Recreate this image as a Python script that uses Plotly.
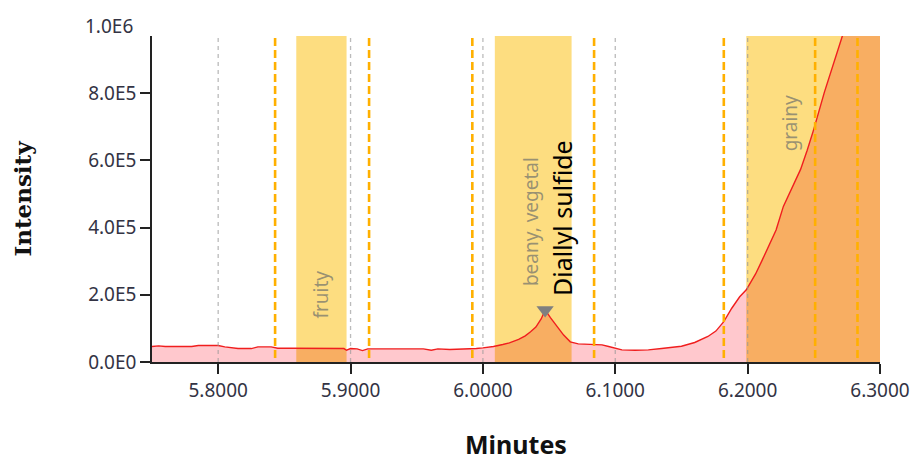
import numpy as np
import plotly.graph_objects as go

# Chromatogram trace (retention time in minutes, detector intensity)
minutes = [
    5.750, 5.755, 5.760, 5.770, 5.780, 5.785, 5.795, 5.800, 5.805, 5.815,
    5.825, 5.830, 5.840, 5.845, 5.855, 5.865, 5.875, 5.885, 5.895, 5.897,
    5.900, 5.905, 5.909, 5.913, 5.925, 5.940, 5.955, 5.961, 5.966, 5.975,
    5.985, 5.995, 6.000, 6.008, 6.015, 6.020, 6.027, 6.032, 6.036, 6.040,
    6.044, 6.047, 6.051, 6.054, 6.057, 6.061, 6.066, 6.072, 6.080, 6.090,
    6.095, 6.100, 6.105, 6.115, 6.125, 6.135, 6.140, 6.150, 6.160, 6.170,
    6.176, 6.182, 6.188, 6.194, 6.199, 6.206, 6.211, 6.2215, 6.227, 6.234,
    6.240, 6.245, 6.250, 6.258, 6.265, 6.272, 6.280, 6.290, 6.300,
]
intensity = [
    46e3, 48e3, 46e3, 46e3, 46e3, 49e3, 50e3, 49e3, 45e3, 40e3,
    40e3, 45e3, 45e3, 41e3, 41e3, 41e3, 41e3, 41e3, 40e3, 35e3,
    40e3, 39e3, 34e3, 39e3, 39e3, 39e3, 39e3, 35e3, 39e3, 37e3,
    38e3, 40e3, 42e3, 46e3, 52e3, 57e3, 67e3, 78e3, 90e3, 104e3,
    128e3, 155e3, 132e3, 115e3, 101e3, 80e3, 60e3, 54e3, 52e3, 51e3,
    46e3, 40e3, 36e3, 35e3, 36e3, 40e3, 42e3, 47e3, 58e3, 76e3,
    92e3, 120e3, 160e3, 194e3, 215e3, 262e3, 303e3, 393e3, 463e3, 520e3,
    573e3, 630e3, 693e3, 803e3, 893e3, 976e3, 1080e3, 1200e3, 1320e3,
]

# Axis ticks
x_tick_vals = [5.8, 5.9, 6.0, 6.1, 6.2, 6.3]
x_tick_text = ["5.8000", "5.9000", "6.0000", "6.1000", "6.2000", "6.3000"]
y_tick_vals = [0, 2e5, 4e5, 6e5, 8e5]
y_tick_text = ["0.0E0", "2.0E5", "4.0E5", "6.0E5", "8.0E5"]
y_top_label = "1.0E6"

# Olfactometry odour windows
odor_start = [5.859, 6.009, 6.199]
odor_end = [5.897, 6.067, 6.300]
odor_names = ["fruity", "beany, vegetal", "grainy"]
odor_name_x = [5.878, 6.0365, 6.232]
odor_name_y = [2.02e5, 4.17e5, 7.1e5]

# Panel response markers
event_minutes = [5.843, 5.914, 5.992, 6.084, 6.182, 6.251, 6.283]

compound_name = "Diallyl sulfide"

X_RANGE = [5.75, 6.3]
Y_RANGE = [0, 0.97e6]

YELLOW = "#FDDD80"
ORANGE_FILL = "#F8AE62"
PINK_FILL = "#FFC8CD"
RED = "#F01E1E"
MARKER_ORANGE = "#FFB000"
FONT = "Noto Sans"
TICK_COLOR = "#333344"

x_arr = np.array(minutes)
y_arr = np.array(intensity)

fig = go.Figure()

# Area under the whole trace
fig.add_trace(go.Scatter(
    x=minutes, y=intensity, mode="lines", line=dict(width=0),
    fill="tozeroy", fillcolor=PINK_FILL, hoverinfo="skip", showlegend=False,
))

# Area under the trace inside each odour window
for s, e in zip(odor_start, odor_end):
    inside = (x_arr > s) & (x_arr < e)
    xs = np.concatenate([[s], x_arr[inside], [e]])
    ys = np.concatenate([[np.interp(s, x_arr, y_arr)], y_arr[inside],
                         [np.interp(e, x_arr, y_arr)]])
    fig.add_trace(go.Scatter(
        x=xs, y=ys, mode="lines", line=dict(width=0),
        fill="tozeroy", fillcolor=ORANGE_FILL, hoverinfo="skip", showlegend=False,
    ))

# Trace line
fig.add_trace(go.Scatter(
    x=minutes, y=intensity, mode="lines",
    line=dict(color=RED, width=1.4), showlegend=False,
))

# Identified peak apex
peak_i = int(np.argmax(np.where(x_arr < 6.1, y_arr, 0)))
peak_x, peak_y = minutes[peak_i], intensity[peak_i]
fig.add_trace(go.Scatter(
    x=[peak_x], y=[peak_y], mode="markers",
    marker=dict(symbol="triangle-down", size=15, color="#7F7F7F"),
    showlegend=False,
))

shapes = []
for s, e in zip(odor_start, odor_end):
    shapes.append(dict(type="rect", xref="x", yref="paper", x0=s, x1=e, y0=0, y1=1,
                       fillcolor=YELLOW, line=dict(width=0), layer="below"))
for v in x_tick_vals[:-1]:
    shapes.append(dict(type="line", xref="x", yref="paper", x0=v, x1=v, y0=0, y1=1,
                       line=dict(color="rgba(150,150,150,0.65)", width=1.3, dash="4px,4px"),
                       layer="above"))
for v in event_minutes:
    shapes.append(dict(type="line", xref="x", yref="paper", x0=v, x1=v, y0=0.012, y1=1,
                       line=dict(color=MARKER_ORANGE, width=2.6, dash="8px,4px"),
                       layer="above"))

annotations = []
for name, nx, ny in zip(odor_names, odor_name_x, odor_name_y):
    annotations.append(dict(x=nx, y=ny, xref="x", yref="y", text=name, textangle=-90,
                            showarrow=False, font=dict(family=FONT, size=19,
                                                       color="rgba(120,120,110,0.75)")))
annotations.append(dict(x=peak_x, y=peak_y, xref="x", yref="y", text=compound_name,
                        textangle=-90, showarrow=False, xanchor="center", yanchor="bottom",
                        xshift=17, yshift=12,
                        font=dict(family=FONT, size=25, color="#000000")))
annotations.append(dict(x=0, y=1, xref="paper", yref="paper", text=y_top_label,
                        showarrow=False, xanchor="right", yanchor="middle",
                        xshift=-17, yshift=10,
                        font=dict(family=FONT, size=19, color=TICK_COLOR)))

fig.update_layout(
    width=911, height=461,
    margin=dict(l=152, r=31, t=36, b=99),
    plot_bgcolor="white", paper_bgcolor="white",
    shapes=shapes, annotations=annotations,
    xaxis=dict(
        range=X_RANGE, tickvals=x_tick_vals, ticktext=x_tick_text, automargin=False,
        showgrid=False, zeroline=False, showline=True, linecolor="#222222", linewidth=1.6,
        ticks="outside", ticklen=10, tickwidth=1.6, tickcolor="#222222",
        tickfont=dict(family=FONT, size=19, color=TICK_COLOR),
        title=dict(text="<b>Minutes</b>", font=dict(family=FONT, size=25, color="#111111"),
                   standoff=40),
    ),
    yaxis=dict(
        range=Y_RANGE, tickvals=y_tick_vals, ticktext=y_tick_text, automargin=False,
        showgrid=False, zeroline=False, showline=True, linecolor="#222222", linewidth=1.6,
        ticks="outside", ticklen=10, tickwidth=1.6, tickcolor="#222222",
        tickfont=dict(family=FONT, size=19, color=TICK_COLOR),
        title=dict(text="<b>Intensity</b>",
                   font=dict(family="DejaVu Serif", size=23, color="#111111"),
                   standoff=50),
    ),
)

fig.write_html("out.html")
